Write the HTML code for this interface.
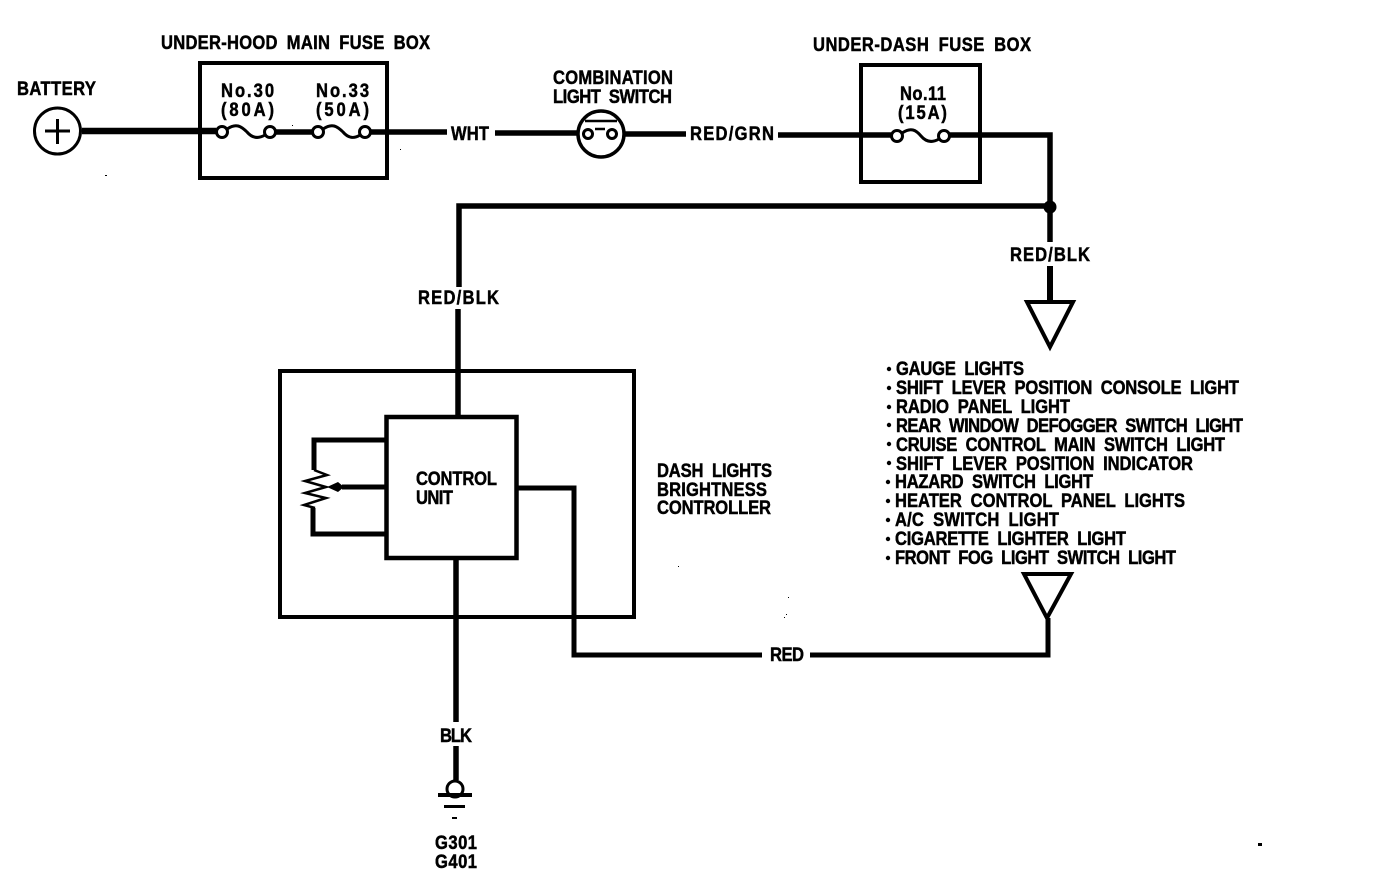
<!DOCTYPE html>
<html><head><meta charset="utf-8"><style>
html,body{margin:0;padding:0;background:#fff;width:1376px;height:886px;overflow:hidden}
svg{display:block}
text{font-family:"Liberation Sans",sans-serif;font-weight:bold;font-size:19.5px;fill:#000;stroke:#000;stroke-width:.5;word-spacing:5px}
</style></head><body>
<svg width="1376" height="886" viewBox="0 0 1376 886" xmlns="http://www.w3.org/2000/svg">
<g fill="none" stroke="#000" stroke-width="4">
<rect x="200" y="63" width="187" height="115"/>
<rect x="861" y="65" width="119" height="117"/>
<rect x="280" y="371" width="354" height="246"/>
</g>
<g fill="none" stroke="#000" stroke-width="5.5">
<path d="M82 131H216" stroke-width="6.500"/>
<path d="M276 132H312M371 132H447M495 133H578M624 134H686M778 135H891M950 135H1050V242"/>
<path d="M1050 266V302" stroke-width="6"/>
<path d="M1050 206H459V287M458 309V417"/>
<path d="M456 558V722M456 746V780"/>
<path d="M386 440H314V470M313 508V534H386" stroke-width="5"/>
<path d="M386 487H342" stroke-width="5"/>
<path d="M517 488H574V655H762M810 655H1048V618" stroke-width="5"/>
</g>
<rect x="386.500" y="417" width="130" height="141" fill="#fff" stroke="#000" stroke-width="4.500"/>
<circle cx="1050" cy="207" r="6.500" fill="#000"/>
<g fill="none" stroke="#000" stroke-width="3">
<circle cx="57.500" cy="131" r="23"/>
<path d="M45 131H70M57.500 119V144"/>
<circle cx="222" cy="132" r="5.500" fill="#fff"/><circle cx="270" cy="132" r="5.500" fill="#fff"/>
<circle cx="318" cy="132" r="5.500" fill="#fff"/><circle cx="365" cy="132" r="5.500" fill="#fff"/>
<circle cx="897" cy="136" r="5.500" fill="#fff"/><circle cx="944" cy="136" r="5.500" fill="#fff"/>
<path d="M227 129C236 123 241 126 247 132C252 138 258 139 265 135"/>
<path d="M323 129C332 123 337 126 343 132C348 138 354 139 360 135"/>
<path d="M902 133C911 127 916 130 921 136C926 142 932 143 939 139"/>
<circle cx="601" cy="134" r="23" stroke-width="3.500"/>
<path d="M585 121H617" stroke-width="2.500"/>
<path d="M595 129H605" stroke-width="2.500"/>
<circle cx="588" cy="134" r="4.500" fill="#fff"/><circle cx="612" cy="134" r="4.500" fill="#fff"/>
<path d="M1027 302H1073L1050 347Z" stroke-width="4"/>
<path d="M1024 574H1071L1047 618Z" stroke-width="4"/>
<path d="M314 470L327 475L305 481L326 487L305 493L326 498L304 505L315 508" stroke-width="2.500"/>
<circle cx="455" cy="789" r="8" fill="#fff"/>
</g>
<path d="M327 487L338 482L344 487L338 492Z" fill="#000"/>
<rect x="438" y="793" width="34" height="4" fill="#000"/>
<rect x="444" y="805" width="21" height="3" fill="#000"/>
<rect x="452" y="817" width="5" height="2" fill="#000"/>

<text transform="matrix(.85 0 0 1 161 49)" textLength="316.500">UNDER-HOOD MAIN FUSE BOX</text>
<text transform="matrix(.85 0 0 1 17 95)" textLength="92.900">BATTERY</text>
<text transform="matrix(.85 0 0 1 221 97)" textLength="62.400">No.30</text>
<text transform="matrix(.85 0 0 1 221 116)" textLength="62.400">(80A)</text>
<text transform="matrix(.85 0 0 1 316 97)" textLength="62.400">No.33</text>
<text transform="matrix(.85 0 0 1 316 116)" textLength="62.400">(50A)</text>
<text transform="matrix(.85 0 0 1 451 140)" textLength="44.700">WHT</text>
<text transform="matrix(.85 0 0 1 553 84)" textLength="141.200">COMBINATION</text>
<text transform="matrix(.85 0 0 1 553 103)" textLength="140">LIGHT SWITCH</text>
<text transform="matrix(.85 0 0 1 690 140)" textLength="98.800">RED/GRN</text>
<text transform="matrix(.85 0 0 1 813 51)" textLength="256.500">UNDER-DASH FUSE BOX</text>
<text transform="matrix(.85 0 0 1 900 100)" textLength="54.100">No.11</text>
<text transform="matrix(.85 0 0 1 898 119)" textLength="57.600">(15A)</text>
<text transform="matrix(.85 0 0 1 1010 261)" textLength="94.100">RED/BLK</text>
<text transform="matrix(.85 0 0 1 418 304)" textLength="95.300">RED/BLK</text>
<text transform="matrix(.85 0 0 1 416 485)" textLength="95.300">CONTROL</text>
<text transform="matrix(.85 0 0 1 416 504)" textLength="43.500">UNIT</text>
<text transform="matrix(.85 0 0 1 657 477)" textLength="135.300">DASH LIGHTS</text>
<text transform="matrix(.85 0 0 1 657 496)" textLength="129.400">BRIGHTNESS</text>
<text transform="matrix(.85 0 0 1 657 514)" textLength="134.100">CONTROLLER</text>
<text transform="matrix(.85 0 0 1 770 661)" textLength="40">RED</text>
<text transform="matrix(.85 0 0 1 440 742)" textLength="37.600">BLK</text>
<text transform="matrix(.85 0 0 1 435 849)" textLength="49.400">G301</text>
<text transform="matrix(.85 0 0 1 435 868)" textLength="49.400">G401</text>

<text transform="matrix(.85 0 0 1 896 375)" textLength="150.600">GAUGE LIGHTS</text>
<text transform="matrix(.85 0 0 1 896 394)" textLength="403.500">SHIFT LEVER POSITION CONSOLE LIGHT</text>
<text transform="matrix(.85 0 0 1 896 413)" textLength="204.700">RADIO PANEL LIGHT</text>
<text transform="matrix(.85 0 0 1 896 432)" textLength="408.200">REAR WINDOW DEFOGGER SWITCH LIGHT</text>
<text transform="matrix(.85 0 0 1 896 451)" textLength="387.100">CRUISE CONTROL MAIN SWITCH LIGHT</text>
<text transform="matrix(.85 0 0 1 896 470)" textLength="349.400">SHIFT LEVER POSITION INDICATOR</text>
<text transform="matrix(.85 0 0 1 895 488)" textLength="232.900">HAZARD SWITCH LIGHT</text>
<text transform="matrix(.85 0 0 1 895 507)" textLength="341.200">HEATER CONTROL PANEL LIGHTS</text>
<text transform="matrix(.85 0 0 1 895 526)" textLength="192.900">A/C SWITCH LIGHT</text>
<text transform="matrix(.85 0 0 1 895 545)" textLength="271.800">CIGARETTE LIGHTER LIGHT</text>
<text transform="matrix(.85 0 0 1 895 564)" textLength="330.600">FRONT FOG LIGHT SWITCH LIGHT</text>
<g fill="#000">
<circle cx="889" cy="369" r="2.200"/><circle cx="889" cy="388" r="2.200"/><circle cx="889" cy="407" r="2.200"/><circle cx="889" cy="425" r="2.200"/><circle cx="889" cy="444" r="2.200"/><circle cx="889" cy="463" r="2.200"/><circle cx="888" cy="482" r="2.200"/><circle cx="888" cy="501" r="2.200"/><circle cx="888" cy="520" r="2.200"/><circle cx="888" cy="539" r="2.200"/><circle cx="888" cy="558" r="2.200"/>
<rect x="1258" y="843" width="4" height="3"/>
<rect x="105" y="175" width="2" height="1"/><rect x="292" y="125" width="1" height="1"/><rect x="400" y="149" width="1" height="1"/>
<rect x="788" y="597" width="1" height="1"/><rect x="786" y="614" width="1" height="1"/><rect x="784" y="617" width="1" height="1"/><rect x="678" y="566" width="1" height="1"/>
</g>
</svg>
</body></html>
